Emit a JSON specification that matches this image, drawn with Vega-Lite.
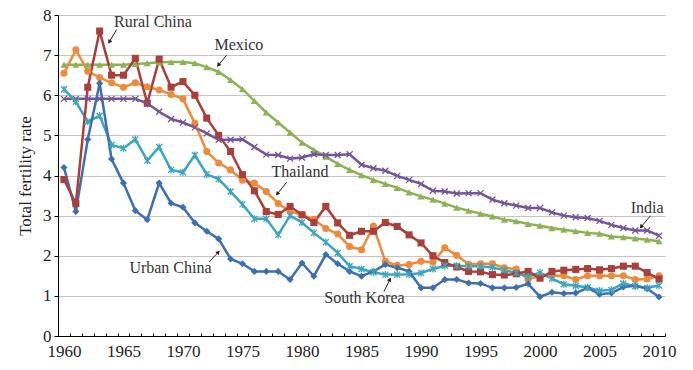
{
  "$schema": "https://vega.github.io/schema/vega-lite/v6.json",
  "width": 607,
  "height": 321,
  "autosize": "none",
  "padding": {"left": 58, "top": 15, "right": 28, "bottom": 34},
  "background": "white",
  "config": {
    "view": {"stroke": null},
    "font": "Liberation Serif",
    "axis": {"labelFont": "Liberation Serif", "titleFont": "Liberation Serif", "labelColor": "#222", "titleColor": "#222"},
    "axisX": {"labelOverlap": false, "labelBound": false, "labelFlush": false, "labelSeparation": 0},
    "axisY": {"labelOverlap": false, "labelFlush": false}
  },
  "datasets": {
    "tfr": [
      {"year": 1960, "Rural China": 3.9, "Urban China": 4.2, "Mexico": 6.76, "India": 5.91, "Thailand": 6.55, "South Korea": 6.15},
      {"year": 1961, "Rural China": 3.3, "Urban China": 3.1, "Mexico": 6.76, "India": 5.91, "Thailand": 7.13, "South Korea": 5.84},
      {"year": 1962, "Rural China": 6.2, "Urban China": 4.9, "Mexico": 6.76, "India": 5.91, "Thailand": 6.6, "South Korea": 5.34},
      {"year": 1963, "Rural China": 7.6, "Urban China": 6.3, "Mexico": 6.76, "India": 5.91, "Thailand": 6.44, "South Korea": 5.49},
      {"year": 1964, "Rural China": 6.5, "Urban China": 4.41, "Mexico": 6.76, "India": 5.91, "Thailand": 6.31, "South Korea": 4.76},
      {"year": 1965, "Rural China": 6.5, "Urban China": 3.81, "Mexico": 6.76, "India": 5.91, "Thailand": 6.2, "South Korea": 4.68},
      {"year": 1966, "Rural China": 6.92, "Urban China": 3.12, "Mexico": 6.78, "India": 5.91, "Thailand": 6.31, "South Korea": 4.9},
      {"year": 1967, "Rural China": 5.8, "Urban China": 2.9, "Mexico": 6.8, "India": 5.8, "Thailand": 6.21, "South Korea": 4.37},
      {"year": 1968, "Rural China": 6.9, "Urban China": 3.81, "Mexico": 6.82, "India": 5.59, "Thailand": 6.13, "South Korea": 4.71},
      {"year": 1969, "Rural China": 6.2, "Urban China": 3.31, "Mexico": 6.83, "India": 5.41, "Thailand": 6.02, "South Korea": 4.14},
      {"year": 1970, "Rural China": 6.34, "Urban China": 3.21, "Mexico": 6.83, "India": 5.32, "Thailand": 5.91, "South Korea": 4.08},
      {"year": 1971, "Rural China": 6.0, "Urban China": 2.82, "Mexico": 6.8, "India": 5.2, "Thailand": 5.3, "South Korea": 4.51},
      {"year": 1972, "Rural China": 5.43, "Urban China": 2.61, "Mexico": 6.7, "India": 5.05, "Thailand": 4.6, "South Korea": 4.03},
      {"year": 1973, "Rural China": 5.0, "Urban China": 2.42, "Mexico": 6.58, "India": 4.89, "Thailand": 4.31, "South Korea": 3.91},
      {"year": 1974, "Rural China": 4.6, "Urban China": 1.92, "Mexico": 6.38, "India": 4.89, "Thailand": 4.14, "South Korea": 3.6},
      {"year": 1975, "Rural China": 4.02, "Urban China": 1.8, "Mexico": 6.15, "India": 4.9, "Thailand": 3.88, "South Korea": 3.28},
      {"year": 1976, "Rural China": 3.62, "Urban China": 1.61, "Mexico": 5.86, "India": 4.71, "Thailand": 3.81, "South Korea": 2.92},
      {"year": 1977, "Rural China": 3.1, "Urban China": 1.61, "Mexico": 5.57, "India": 4.52, "Thailand": 3.6, "South Korea": 2.92},
      {"year": 1978, "Rural China": 3.03, "Urban China": 1.61, "Mexico": 5.32, "India": 4.51, "Thailand": 3.3, "South Korea": 2.52},
      {"year": 1979, "Rural China": 3.23, "Urban China": 1.41, "Mexico": 5.07, "India": 4.42, "Thailand": 3.1, "South Korea": 3.0},
      {"year": 1980, "Rural China": 3.02, "Urban China": 1.82, "Mexico": 4.82, "India": 4.45, "Thailand": 3.02, "South Korea": 2.83},
      {"year": 1981, "Rural China": 2.83, "Urban China": 1.49, "Mexico": 4.64, "India": 4.53, "Thailand": 2.91, "South Korea": 2.57},
      {"year": 1982, "Rural China": 3.23, "Urban China": 2.03, "Mexico": 4.47, "India": 4.51, "Thailand": 2.68, "South Korea": 2.34},
      {"year": 1983, "Rural China": 2.82, "Urban China": 1.8, "Mexico": 4.29, "India": 4.51, "Thailand": 2.54, "South Korea": 2.07},
      {"year": 1984, "Rural China": 2.51, "Urban China": 1.61, "Mexico": 4.14, "India": 4.53, "Thailand": 2.23, "South Korea": 1.74},
      {"year": 1985, "Rural China": 2.61, "Urban China": 1.49, "Mexico": 4.01, "India": 4.27, "Thailand": 2.15, "South Korea": 1.67},
      {"year": 1986, "Rural China": 2.61, "Urban China": 1.61, "Mexico": 3.89, "India": 4.18, "Thailand": 2.74, "South Korea": 1.59},
      {"year": 1987, "Rural China": 2.83, "Urban China": 1.78, "Mexico": 3.79, "India": 4.12, "Thailand": 1.86, "South Korea": 1.53},
      {"year": 1988, "Rural China": 2.73, "Urban China": 1.7, "Mexico": 3.69, "India": 3.99, "Thailand": 1.76, "South Korea": 1.53},
      {"year": 1989, "Rural China": 2.52, "Urban China": 1.61, "Mexico": 3.58, "India": 3.89, "Thailand": 1.78, "South Korea": 1.53},
      {"year": 1990, "Rural China": 2.32, "Urban China": 1.2, "Mexico": 3.48, "India": 3.79, "Thailand": 1.86, "South Korea": 1.57},
      {"year": 1991, "Rural China": 2.0, "Urban China": 1.2, "Mexico": 3.4, "India": 3.62, "Thailand": 1.84, "South Korea": 1.67},
      {"year": 1992, "Rural China": 1.83, "Urban China": 1.41, "Mexico": 3.3, "India": 3.6, "Thailand": 2.2, "South Korea": 1.75},
      {"year": 1993, "Rural China": 1.72, "Urban China": 1.41, "Mexico": 3.2, "India": 3.55, "Thailand": 2.01, "South Korea": 1.75},
      {"year": 1994, "Rural China": 1.61, "Urban China": 1.32, "Mexico": 3.12, "India": 3.56, "Thailand": 1.79, "South Korea": 1.74},
      {"year": 1995, "Rural China": 1.6, "Urban China": 1.31, "Mexico": 3.05, "India": 3.56, "Thailand": 1.8, "South Korea": 1.74},
      {"year": 1996, "Rural China": 1.53, "Urban China": 1.2, "Mexico": 2.98, "India": 3.4, "Thailand": 1.8, "South Korea": 1.71},
      {"year": 1997, "Rural China": 1.52, "Urban China": 1.2, "Mexico": 2.9, "India": 3.31, "Thailand": 1.7, "South Korea": 1.64},
      {"year": 1998, "Rural China": 1.55, "Urban China": 1.21, "Mexico": 2.86, "India": 3.25, "Thailand": 1.67, "South Korea": 1.57},
      {"year": 1999, "Rural China": 1.61, "Urban China": 1.3, "Mexico": 2.79, "India": 3.19, "Thailand": 1.41, "South Korea": 1.48},
      {"year": 2000, "Rural China": 1.44, "Urban China": 0.98, "Mexico": 2.75, "India": 3.19, "Thailand": 1.5, "South Korea": 1.58},
      {"year": 2001, "Rural China": 1.61, "Urban China": 1.09, "Mexico": 2.69, "India": 3.08, "Thailand": 1.5, "South Korea": 1.43},
      {"year": 2002, "Rural China": 1.64, "Urban China": 1.06, "Mexico": 2.65, "India": 3.0, "Thailand": 1.5, "South Korea": 1.29},
      {"year": 2003, "Rural China": 1.66, "Urban China": 1.07, "Mexico": 2.61, "India": 2.96, "Thailand": 1.41, "South Korea": 1.25},
      {"year": 2004, "Rural China": 1.68, "Urban China": 1.2, "Mexico": 2.57, "India": 2.94, "Thailand": 1.5, "South Korea": 1.21},
      {"year": 2005, "Rural China": 1.65, "Urban China": 1.04, "Mexico": 2.55, "India": 2.87, "Thailand": 1.5, "South Korea": 1.13},
      {"year": 2006, "Rural China": 1.68, "Urban China": 1.07, "Mexico": 2.48, "India": 2.77, "Thailand": 1.5, "South Korea": 1.15},
      {"year": 2007, "Rural China": 1.74, "Urban China": 1.22, "Mexico": 2.46, "India": 2.69, "Thailand": 1.5, "South Korea": 1.31},
      {"year": 2008, "Rural China": 1.74, "Urban China": 1.25, "Mexico": 2.43, "India": 2.63, "Thailand": 1.41, "South Korea": 1.24},
      {"year": 2009, "Rural China": 1.58, "Urban China": 1.18, "Mexico": 2.4, "India": 2.63, "Thailand": 1.42, "South Korea": 1.2},
      {"year": 2010, "Rural China": 1.42, "Urban China": 0.97, "Mexico": 2.36, "India": 2.5, "Thailand": 1.5, "South Korea": 1.26}
    ],
    "labels": [
      {"label": "Rural China", "yr": 1967.48, "v": 7.82},
      {"label": "Mexico", "yr": 1974.7, "v": 7.25},
      {"label": "Thailand", "yr": 1979.83, "v": 4.08},
      {"label": "Urban China", "yr": 1968.95, "v": 1.69},
      {"label": "South Korea", "yr": 1985.25, "v": 0.945},
      {"label": "India", "yr": 2009.0, "v": 3.18}
    ],
    "arrows": [
      {"label": "Rural China", "yr1": 1964.43, "v1": 7.64, "yr2": 1963.81, "v2": 7.33},
      {"label": "Mexico", "yr1": 1973.67, "v1": 7.0, "yr2": 1972.97, "v2": 6.75},
      {"label": "Thailand", "yr1": 1978.71, "v1": 3.83, "yr2": 1977.92, "v2": 3.54},
      {"label": "Urban China", "yr1": 1972.21, "v1": 1.85, "yr2": 1972.97, "v2": 2.09},
      {"label": "South Korea", "yr1": 1986.89, "v1": 1.11, "yr2": 1987.39, "v2": 1.41},
      {"label": "India", "yr1": 2009.3, "v1": 3.0, "yr2": 2008.49, "v2": 2.72}
    ]
  },
  "layer": [
    {
      "data": {"name": "tfr"},
      "transform": [{"fold": ["Mexico", "India", "Thailand", "South Korea", "Urban China", "Rural China"], "as": ["series", "tfr"]}],
      "mark": {"type": "line", "strokeWidth": 2.5},
      "encoding": {
        "x": {
          "field": "year", "type": "quantitative", "title": null,
          "scale": {"domain": [1959.5, 2010.5], "nice": false, "zero": false},
          "axis": {
            "values": [1959.5,1960.5,1961.5,1962.5,1963.5,1964.5,1965.5,1966.5,1967.5,1968.5,1969.5,1970.5,1971.5,1972.5,1973.5,1974.5,1975.5,1976.5,1977.5,1978.5,1979.5,1980.5,1981.5,1982.5,1983.5,1984.5,1985.5,1986.5,1987.5,1988.5,1989.5,1990.5,1991.5,1992.5,1993.5,1994.5,1995.5,1996.5,1997.5,1998.5,1999.5,2000.5,2001.5,2002.5,2003.5,2004.5,2005.5,2006.5,2007.5,2008.5,2009.5,2010.5],
            "tickCount": 200,
            "labelExpr": "(datum.value + 0.5) % 5 == 0 ? format(datum.value + 0.5, 'd') : ''",
            "labelOffset": 6,
            "tickSize": -3,
            "labelPadding": 10,
            "grid": false,
            "domainColor": "#000",
            "tickColor": "#000",
            "labelFontSize": 17,
            "labelOverlap": false,
            "labelBound": false,
            "labelFlush": false
          }
        },
        "y": {
          "field": "tfr", "type": "quantitative", "title": "Total fertility rate",
          "scale": {"domain": [0, 8], "nice": false},
          "axis": {
            "values": [0, 1, 2, 3, 4, 5, 6, 7, 8],
            "format": "d",
            "tickSize": 4,
            "labelPadding": 3,
            "grid": true,
            "gridColor": "#c4c4c4",
            "domainColor": "#000",
            "tickColor": "#000",
            "labelFontSize": 17,
            "titleFontSize": 17,
            "titleFontWeight": "normal",
            "titlePadding": 8,
            "labelFlush": false
          }
        },
        "color": {
          "field": "series", "type": "nominal", "legend": null,
          "scale": {
            "domain": ["Rural China", "Urban China", "Mexico", "India", "Thailand", "South Korea"],
            "range": ["#A93E3A", "#3C6FAE", "#8DB253", "#74549B", "#EE8B3A", "#3AA5BF"]
          }
        },
        "detail": {"field": "series"}
      }
    },
    {
      "data": {"name": "tfr"},
      "transform": [
        {"fold": ["Mexico", "Thailand", "Urban China", "Rural China"], "as": ["series", "tfr"]}
      ],
      "mark": {"type": "point", "filled": true, "size": 50, "opacity": 1},
      "encoding": {
        "x": {"field": "year", "type": "quantitative", "title": null},
        "y": {"field": "tfr", "type": "quantitative", "title": "Total fertility rate"},
        "color": {"field": "series", "type": "nominal", "legend": null},
        "shape": {
          "field": "series", "type": "nominal", "legend": null,
          "scale": {
            "domain": ["Rural China", "Urban China", "Mexico", "India", "Thailand", "South Korea"],
            "range": ["square", "diamond", "triangle-up", "M-1,-1L1,1M-1,1L1,-1", "circle", "M-1,-1L1,1M-1,1L1,-1M0,-1.2L0,1.2"]
          }
        }
      }
    },
    {
      "data": {"name": "tfr"},
      "transform": [
        {"fold": ["India", "South Korea"], "as": ["series", "tfr"]}
      ],
      "mark": {"type": "point", "filled": false, "size": 36, "strokeWidth": 1.3, "opacity": 1},
      "encoding": {
        "x": {"field": "year", "type": "quantitative", "title": null},
        "y": {"field": "tfr", "type": "quantitative", "title": "Total fertility rate"},
        "color": {"field": "series", "type": "nominal", "legend": null},
        "shape": {"field": "series", "type": "nominal", "legend": null}
      }
    },
    {
      "data": {"name": "labels"},
      "mark": {"type": "text", "font": "Liberation Serif", "fontSize": 16, "color": "#333", "align": "center", "baseline": "middle"},
      "encoding": {
        "x": {"field": "yr", "type": "quantitative", "title": null},
        "y": {"field": "v", "type": "quantitative", "title": "Total fertility rate"},
        "text": {"field": "label"}
      }
    },
    {
      "data": {"name": "arrows"},
      "mark": {"type": "rule", "color": "#222", "strokeWidth": 1},
      "encoding": {
        "x": {"field": "yr1", "type": "quantitative", "title": null},
        "y": {"field": "v1", "type": "quantitative", "title": "Total fertility rate"},
        "x2": {"field": "yr2"},
        "y2": {"field": "v2"}
      }
    },
    {
      "data": {"name": "arrows"},
      "transform": [{"calculate": "atan2((datum.yr2 - datum.yr1) * 11.9, (datum.v2 - datum.v1) * 40.2) * 180 / PI", "as": "ang"}],
      "mark": {"type": "point", "shape": "triangle-up", "filled": true, "size": 22, "color": "#222", "opacity": 1},
      "encoding": {
        "x": {"field": "yr2", "type": "quantitative", "title": null},
        "y": {"field": "v2", "type": "quantitative", "title": "Total fertility rate"},
        "angle": {"field": "ang", "type": "quantitative", "scale": null}
      }
    }
  ]
}
